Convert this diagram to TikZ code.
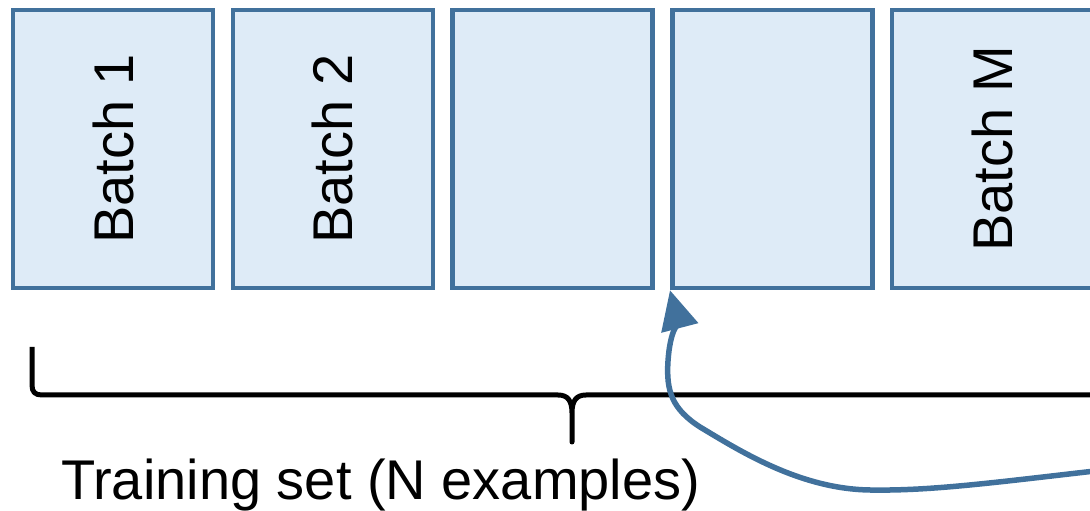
\documentclass[tikz,border=0pt]{standalone}
\usepackage{fontspec}
\setmainfont{Liberation Sans}
\usetikzlibrary{arrows.meta}

\definecolor{batchline}{RGB}{65,113,156}
\definecolor{batchfill}{RGB}{222,235,247}

\begin{document}
\begin{tikzpicture}[x=1pt, y=1pt,
    batchbox/.style={draw=batchline, fill=batchfill, line width=4.5pt, minimum width=200pt, minimum height=278pt, inner sep=0pt},
    batchtext/.style={rotate=90, font=\fontsize{56}{60}\selectfont},
    bracepath/.style={line width=5pt, line join=round},
    feedback/.style={draw=batchline, line width=5.5pt, -{Triangle[length=39pt, width=37pt]}}]

    \useasboundingbox (0,0) rectangle (1090,511);
    \clip (0,0) rectangle (1090,511);

    % Row of mini-batches
    \foreach \i/\txt in {1/Batch 1, 2/Batch 2, 3/, 4/, 5/Batch M} {
        \node[batchbox] (b\i) at ({113+219.75*(\i-1)}, 362) {};
        \node[batchtext] (t\i) at (b\i) {\txt};
    }

    % Brace under the whole training set
    \draw[bracepath] (32,164) -- (32,126) .. controls (32,119) and (35,116) .. (42,116)
        -- (558,116) .. controls (568,116) and (572,110) .. (572,98) -- (572,69)
        -- (572,98) .. controls (572,110) and (576,116) .. (586,116) -- (1100,116);
    \node[font=\fontsize{56}{60}\selectfont, anchor=base west, inner sep=0pt] (lbl) at (61,11) {Training set (N examples)};

    % Arrow coming back to the next batch
    \coordinate (src) at (1095,40);
    \draw[feedback] (src) .. controls (990,28) and (930,20) .. (870,21)
        .. controls (800,22) and (740,60) .. (700,84)
        .. controls (672,102) and (666,120) .. (668,150)
        .. controls (670,180) and (678,190) .. (b4.south west);

\end{tikzpicture}
\end{document}
